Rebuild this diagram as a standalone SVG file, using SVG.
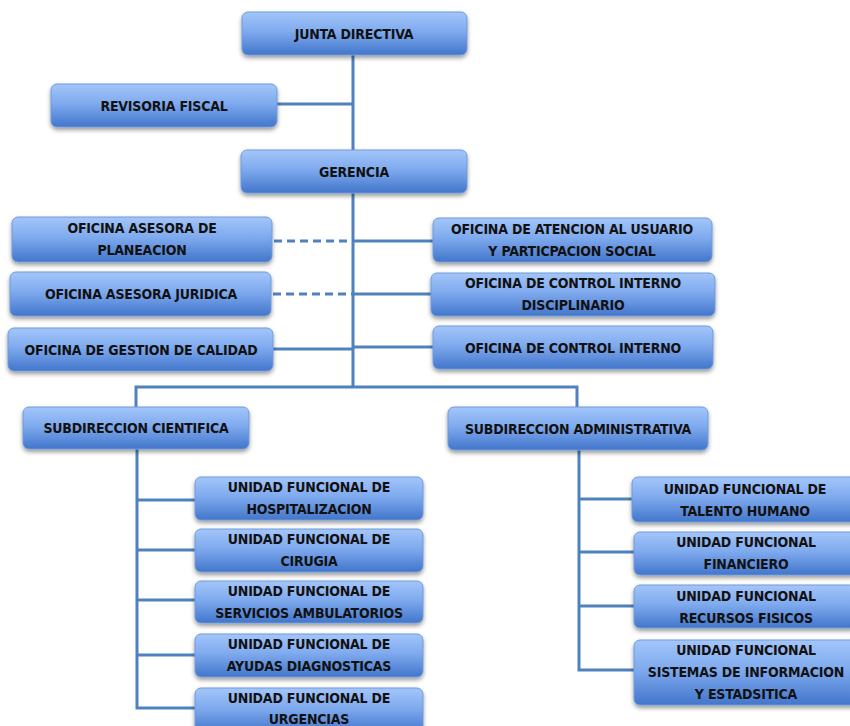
<svg xmlns="http://www.w3.org/2000/svg" width="850" height="726" viewBox="0 0 850 726">
<defs>
<linearGradient id="g" x1="0" y1="0" x2="0" y2="1">
<stop offset="0" stop-color="#a3c6fa"/>
<stop offset="0.45" stop-color="#7faaee"/>
<stop offset="1" stop-color="#4276cb"/>
</linearGradient>
<filter id="sh" x="-10%" y="-20%" width="120%" height="150%">
<feDropShadow dx="0" dy="2.5" stdDeviation="2" flood-color="#000" flood-opacity="0.4"/>
</filter>
</defs>
<style>
.box{fill:url(#g);stroke:#6e9ad8;stroke-width:1;filter:url(#sh)}
text{font-family:"Liberation Sans Narrow","DejaVu Sans Condensed","Liberation Sans",sans-serif;font-weight:bold;font-size:14px;letter-spacing:-0.2px;fill:#111;text-anchor:middle}
.c{fill:none;stroke:#4f81bd;stroke-width:3}
.d{fill:none;stroke:#4f81bd;stroke-width:3;stroke-dasharray:8,5}
</style>
<rect width="850" height="726" fill="#fff"/>
<g id="connectors">
<path class="c" d="M353 55V387"/>
<path class="c" d="M277 104H353"/>
<path class="d" d="M274 241H353"/>
<path class="d" d="M273 294H353"/>
<path class="c" d="M273 349H353"/>
<path class="c" d="M353 241H433"/>
<path class="c" d="M353 294H431"/>
<path class="c" d="M353 347H433"/>
<path class="c" d="M136 407V387H577V407"/>
<path class="c" d="M137 449V708H195"/>
<path class="c" d="M137 500H195M137 550H195M137 600H195M137 655H195"/>
<path class="c" d="M579 450V670H634"/>
<path class="c" d="M579 499H632M579 552H634M579 606H634"/>
</g>
<g id="junta"><rect class="box" x="242" y="12" width="225" height="43" rx="6"/><text x="354" y="39">JUNTA DIRECTIVA</text></g>
<g id="revisoria"><rect class="box" x="51" y="84" width="226" height="43" rx="6"/><text x="164" y="111">REVISORIA FISCAL</text></g>
<g id="gerencia"><rect class="box" x="241" y="150" width="226" height="43" rx="6"/><text x="354" y="177">GERENCIA</text></g>
<g id="planeacion"><rect class="box" x="12" y="217" width="260" height="45" rx="6"/><text x="142" y="233">OFICINA ASESORA DE</text><text x="142" y="255">PLANEACION</text></g>
<g id="juridica"><rect class="box" x="10" y="272" width="261" height="44" rx="6"/><text x="141" y="299">OFICINA ASESORA JURIDICA</text></g>
<g id="calidad"><rect class="box" x="8" y="328" width="265" height="43" rx="6"/><text x="141" y="355">OFICINA DE GESTION DE CALIDAD</text></g>
<g id="atencion"><rect class="box" x="433" y="218" width="279" height="44" rx="6"/><text x="572" y="234">OFICINA DE ATENCION AL USUARIO</text><text x="572" y="256">Y PARTICPACION SOCIAL</text></g>
<g id="disciplinario"><rect class="box" x="431" y="273" width="284" height="43" rx="6"/><text x="573" y="288">OFICINA DE CONTROL INTERNO</text><text x="573" y="310">DISCIPLINARIO</text></g>
<g id="control"><rect class="box" x="433" y="326" width="280" height="43" rx="6"/><text x="573" y="353">OFICINA DE CONTROL INTERNO</text></g>
<g id="sub-cientifica"><rect class="box" x="23" y="407" width="226" height="42" rx="6"/><text x="136" y="433">SUBDIRECCION CIENTIFICA</text></g>
<g id="sub-administrativa"><rect class="box" x="448" y="407" width="260" height="43" rx="6"/><text x="578" y="434">SUBDIRECCION ADMINISTRATIVA</text></g>
<g id="hospitalizacion"><rect class="box" x="195" y="477" width="228" height="43" rx="6"/><text x="309" y="492">UNIDAD FUNCIONAL DE</text><text x="309" y="514">HOSPITALIZACION</text></g>
<g id="cirugia"><rect class="box" x="195" y="529" width="228" height="43" rx="6"/><text x="309" y="544">UNIDAD FUNCIONAL DE</text><text x="309" y="566">CIRUGIA</text></g>
<g id="ambulatorios"><rect class="box" x="195" y="581" width="228" height="42" rx="6"/><text x="309" y="596">UNIDAD FUNCIONAL DE</text><text x="309" y="618">SERVICIOS AMBULATORIOS</text></g>
<g id="ayudas"><rect class="box" x="195" y="634" width="228" height="43" rx="6"/><text x="309" y="649">UNIDAD FUNCIONAL DE</text><text x="309" y="671">AYUDAS DIAGNOSTICAS</text></g>
<g id="urgencias"><rect class="box" x="195" y="688" width="228" height="45" rx="6"/><text x="309" y="703">UNIDAD FUNCIONAL DE</text><text x="309" y="724">URGENCIAS</text></g>
<g id="talento"><rect class="box" x="632" y="477" width="226" height="45" rx="6"/><text x="745" y="494">UNIDAD FUNCIONAL DE</text><text x="745" y="516">TALENTO HUMANO</text></g>
<g id="financiero"><rect class="box" x="634" y="532" width="224" height="43" rx="6"/><text x="746" y="547">UNIDAD FUNCIONAL</text><text x="746" y="569">FINANCIERO</text></g>
<g id="recursos"><rect class="box" x="634" y="585" width="224" height="43" rx="6"/><text x="746" y="601">UNIDAD FUNCIONAL</text><text x="746" y="623">RECURSOS FISICOS</text></g>
<g id="sistemas"><rect class="box" x="634" y="640" width="224" height="65" rx="6"/><text x="746" y="655">UNIDAD FUNCIONAL</text><text x="746" y="677">SISTEMAS DE INFORMACION</text><text x="746" y="699">Y ESTADSITICA</text></g>
</svg>
